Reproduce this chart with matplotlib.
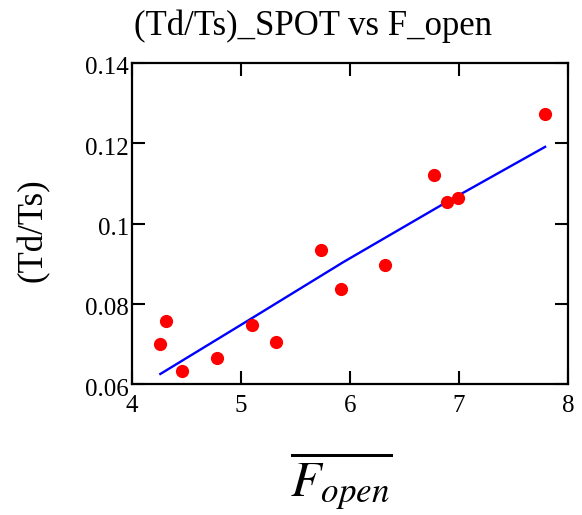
import numpy as np
import matplotlib.pyplot as plt
from matplotlib.transforms import ScaledTranslation

# data
f_open = [4.26, 4.31, 4.46, 4.78, 5.10, 5.32, 5.73, 5.92, 6.32, 6.77, 6.89, 6.99, 7.79]
td_ts = [0.0700, 0.0757, 0.0632, 0.0666, 0.0747, 0.0704, 0.0934, 0.0836, 0.0896,
         0.1120, 0.1053, 0.1064, 0.1272]

# fitted curve
fit_x = [4.26, 5.10, 5.94, 6.89, 7.79]
fit_y = [0.0625, 0.0764, 0.0904, 0.1054, 0.1191]

xticks = [4, 5, 6, 7, 8]
yticks = [0.06, 0.08, 0.10, 0.12, 0.14]
ytick_labels = ['0.06', '0.08', '0.1', '0.12', '0.14']

plt.rcParams['font.family'] = 'Liberation Serif'
plt.rcParams['mathtext.fontset'] = 'stix'

W, H = 582, 515
fig = plt.figure(figsize=(W / 100, H / 100), dpi=100)
ax = fig.add_axes([132 / W, 1 - 384 / H, (568 - 132) / W, (384 - 63) / H])

ax.plot(fit_x, fit_y, color='#0000ff', lw=1.7, zorder=2)
ax.plot(f_open, td_ts, 'o', color='#ff0000', ms=9.5, mec='none', zorder=3)

ax.set_xlim(4, 8)
ax.set_ylim(0.06, 0.14)
ax.set_xticks(xticks)
ax.set_yticks(yticks)
ax.set_yticklabels(ytick_labels)
ax.tick_params(direction='in', length=9.5, width=1.5, labelsize=18,
               top=True, right=True)
ax.tick_params(axis='x', pad=8)
ax.tick_params(axis='y', pad=2)
# y labels sit a little below their ticks in the reference
shift = ScaledTranslation(0, -3 / 100, fig.dpi_scale_trans)
for lbl in ax.get_yticklabels():
    lbl.set_transform(lbl.get_transform() + shift)
for s in ax.spines.values():
    s.set_linewidth(1.6)

fig.text(313 / W, 1 - 35 / H, '(Td/Ts)_SPOT vs F_open', fontsize=25,
         ha='center', va='baseline')
fig.text(33 / W, 1 - 230 / H, '(Td/Ts)', fontsize=25, rotation=90,
         ha='center', va='center')
fig.text(341 / W, 1 - 481 / H, r'$\overline{F_{open}}$', fontsize=36,
         ha='center', va='center')

fig.savefig('out.png', dpi=100)
